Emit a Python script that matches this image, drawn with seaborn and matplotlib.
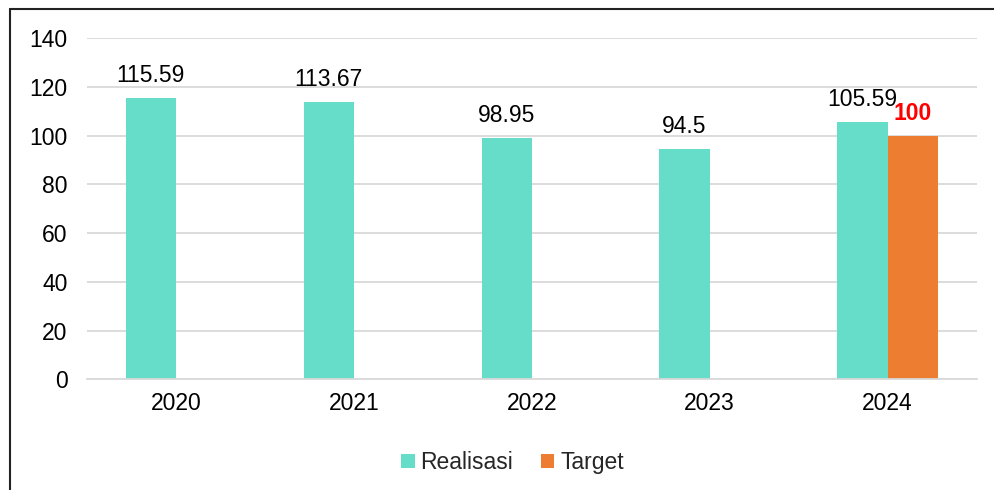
import matplotlib.pyplot as plt
import matplotlib.lines as mlines
import seaborn as sns
import pandas as pd

years = ['2020', '2021', '2022', '2023', '2024']
realisasi = [115.59, 113.67, 98.95, 94.5, 105.59]
target_years = ['2024']
target = [100]

series = ['Realisasi', 'Target']
colors = ['#66DDC8', '#ED7D31']

df = pd.concat([
    pd.DataFrame({'year': years, 'series': 'Realisasi', 'value': realisasi}),
    pd.DataFrame({'year': target_years, 'series': 'Target', 'value': target}),
], ignore_index=True)

sns.set_style('white')
plt.rcParams['font.family'] = ['Liberation Sans', 'DejaVu Sans']

fig = plt.figure(figsize=(9.95, 4.9), dpi=100)
ax = fig.add_axes([0.0875, 0.226, 0.894, 0.696])

sns.barplot(data=df, x='year', y='value', hue='series', order=years,
            hue_order=series, palette=colors, width=0.565, gap=0,
            saturation=1, errorbar=None, linewidth=0, ax=ax, legend=True)

ax.set_ylim(0, 140)
ax.set_yticks(range(0, 141, 20))
ax.yaxis.grid(True, color='#d9d9d9', linewidth=1.3)
ax.set_axisbelow(True)
for s in ['top', 'right', 'left']:
    ax.spines[s].set_visible(False)
ax.spines['bottom'].set_color('#d9d9d9')
ax.spines['bottom'].set_linewidth(1.3)
ax.tick_params(axis='both', length=0, labelsize=16.5, colors='black')
ax.tick_params(axis='y', pad=14)
ax.tick_params(axis='x', pad=9)
ax.set_xlabel('')
ax.set_ylabel('')

# value labels
ax.bar_label(ax.containers[0], labels=[f'{v:g}' for v in realisasi],
             padding=8, fontsize=16.5, color='black')
ax.bar_label(ax.containers[1], labels=[f'{v:g}' for v in target],
             padding=8, fontsize=16.5, color='#FF0000', fontweight='bold')

ax.legend(loc='upper center', bbox_to_anchor=(0.478, -0.15), ncol=2,
          frameon=False, fontsize=16.5, handlelength=0.6, handleheight=0.6,
          handletextpad=0.25, columnspacing=1.2)

# chart border (top and left visible)
fig.add_artist(mlines.Line2D([9.5 / 995, 1.0], [1 - 9.5 / 490, 1 - 9.5 / 490],
                             color='#222222', linewidth=1.5))
fig.add_artist(mlines.Line2D([9.5 / 995, 9.5 / 995], [0.0, 1 - 9.5 / 490],
                             color='#222222', linewidth=1.5))

fig.savefig('out.png', dpi=100)
plt.close(fig)
